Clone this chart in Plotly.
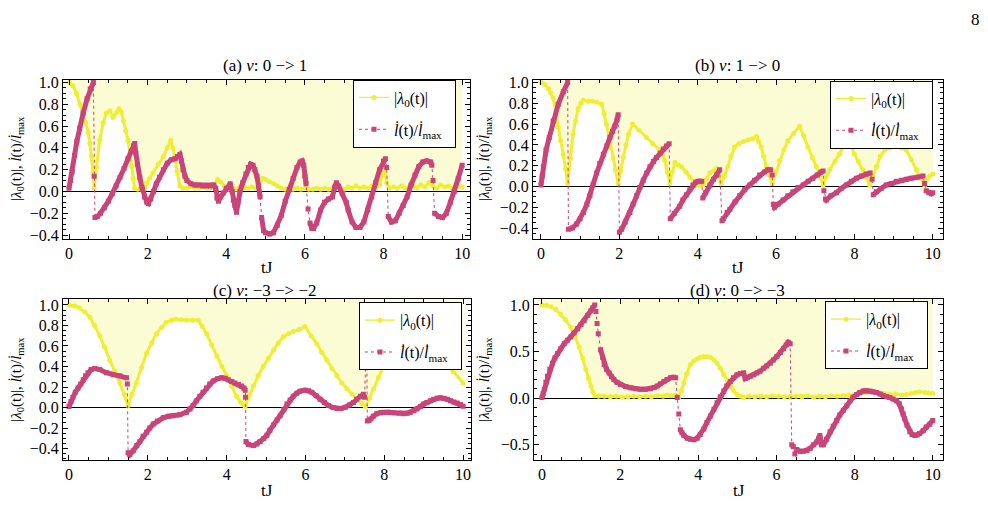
import plotly.graph_objects as go

FONT = "Liberation Serif"
YEL = "#EEEE33"
FILL = "#FBFBD4"
PINK = "#C94478"

# ---------------- panel (a) ----------------
A_YEL_T = [0, 0.1, 0.19, 0.28, 0.36, 0.42, 0.49, 0.53, 0.57, 0.61, 0.64, 0.7, 0.78, 0.87, 0.95, 1.04, 1.12, 1.2, 1.27, 1.33,
           1.38, 1.44, 1.5, 1.55, 1.59, 1.63, 1.67, 1.75, 1.85, 1.93, 1.97, 2.05, 2.14, 2.27, 2.4, 2.5, 2.59, 2.64, 2.69, 2.75,
           2.82, 2.9, 3.0, 3.1, 3.2, 3.3, 3.4, 3.5, 3.6, 3.7, 3.78, 3.85, 3.95, 4.05, 4.15, 4.25, 4.35, 4.45, 4.55, 4.65,
           4.75, 4.85, 4.93, 5.0, 5.1, 5.2, 5.3, 5.4, 5.5, 5.6, 5.7, 5.8, 5.9, 6.0, 6.1, 6.2, 6.3, 6.4, 6.5, 6.6,
           6.7, 6.8, 6.9, 7.0, 7.1, 7.2, 7.3, 7.4, 7.5, 7.6, 7.7, 7.8, 7.9, 7.98, 8.03, 8.08, 8.15, 8.25, 8.35, 8.45,
           8.55, 8.65, 8.75, 8.85, 8.95, 9.05, 9.15, 9.25, 9.35, 9.45, 9.55, 9.65, 9.75, 9.85, 9.95, 10.0]
A_YEL_V = [1.0, 0.97, 0.9, 0.8, 0.71, 0.63, 0.54, 0.44, 0.32, 0.17, 0.03, 0.22, 0.47, 0.63, 0.72, 0.74, 0.68, 0.72, 0.76, 0.73,
           0.65, 0.56, 0.47, 0.35, 0.23, 0.12, 0.03, 0.02, 0.02, 0.03, 0.075, 0.12, 0.17, 0.25, 0.32, 0.4, 0.47, 0.4, 0.32, 0.18,
           0.05, 0.03, 0.03, 0.04, 0.03, 0.03, 0.04, 0.03, 0.03, 0.05, 0.11, 0.09, 0.05, 0.02, 0.03, 0.02, 0.04, 0.03, 0.03, 0.04,
           0.03, 0.05, 0.12, 0.11, 0.09, 0.07, 0.05, 0.03, 0.02, 0.02, 0.02, 0.03, 0.02, 0.03, 0.02, 0.02, 0.03, 0.02, 0.03, 0.02,
           0.03, 0.05, 0.03, 0.02, 0.04, 0.03, 0.05, 0.03, 0.04, 0.03, 0.05, 0.03, 0.06, 0.15, 0.2, 0.08, 0.03, 0.04, 0.03, 0.05,
           0.03, 0.04, 0.05, 0.03, 0.06, 0.04, 0.08, 0.05, 0.03, 0.06, 0.04, 0.05, 0.03, 0.05, 0.04, 0.04]
A_PINK_T = [
    [0, 0.04, 0.08, 0.14, 0.2, 0.27, 0.36, 0.46, 0.54, 0.62],
    [0.64],
    [0.66, 0.72, 0.8, 0.9, 1.0, 1.1, 1.2, 1.3, 1.4, 1.5, 1.58, 1.64, 1.67, 1.7, 1.74, 1.8, 1.86, 1.92, 1.98, 2.02,
     2.08, 2.15, 2.22, 2.3, 2.4, 2.5, 2.6, 2.7, 2.76, 2.82, 2.86, 2.9, 2.95, 3.0, 3.1, 3.2, 3.3, 3.4, 3.5, 3.6, 3.68, 3.73,
     3.76, 3.8, 3.86, 3.92, 4.0, 4.1, 4.15, 4.18, 4.22, 4.26, 4.3, 4.35, 4.42, 4.5, 4.56, 4.62, 4.68, 4.73, 4.78, 4.82, 4.86],
    [4.9, 4.95, 5.0, 5.1, 5.2, 5.3, 5.4, 5.5, 5.6, 5.7, 5.8, 5.88, 5.93, 5.97, 6.0, 6.03],
    [6.08],
    [6.13, 6.18, 6.22, 6.3, 6.4, 6.5, 6.6, 6.7, 6.76, 6.8, 6.86, 6.95, 7.05, 7.1, 7.2, 7.3, 7.4, 7.5, 7.6, 7.7,
     7.8, 7.9, 8.0, 8.05],
    [8.08],
    [8.12, 8.2, 8.3, 8.4, 8.5, 8.6, 8.7, 8.8, 8.9, 9.0, 9.1, 9.2, 9.23],
    [9.26],
    [9.3, 9.4, 9.5, 9.6, 9.7, 9.8, 9.9, 10.0],
]
A_PINK_V = [
    [0.03, 0.1, 0.18, 0.33, 0.46, 0.58, 0.72, 0.85, 0.94, 1.0],
    [0.14],
    [-0.24, -0.23, -0.2, -0.15, -0.09, -0.02, 0.05, 0.13, 0.21, 0.3, 0.37, 0.42, 0.44, 0.35, 0.25, 0.13, 0.03, -0.05, -0.1, -0.11,
     -0.07, 0.0, 0.07, 0.13, 0.2, 0.26, 0.29, 0.3, 0.32, 0.34, 0.28, 0.2, 0.14, 0.1, 0.07, 0.06, 0.06, 0.05, 0.05, 0.05, 0.06, 0.03,
     -0.06, -0.09, -0.05, -0.015, 0.03, 0.07, 0.0, -0.08, -0.13, -0.19, -0.1, 0.0, 0.08, 0.16, 0.22, 0.25, 0.24, 0.2, 0.14, 0.05, -0.05],
    [-0.24, -0.36, -0.38, -0.39, -0.38, -0.31, -0.22, -0.09, 0.02, 0.12, 0.22, 0.27, 0.28, 0.24, 0.14, 0.07],
    [-0.16],
    [-0.29, -0.34, -0.34, -0.29, -0.17, -0.1, -0.07, -0.05, 0.04, 0.08, 0.05, -0.02, -0.1, -0.17, -0.28, -0.33, -0.33, -0.28, -0.17, -0.05,
     0.08, 0.2, 0.28, 0.3],
    [0.22],
    [-0.23, -0.28, -0.27, -0.2, -0.13, -0.05, 0.06, 0.15, 0.23, 0.27, 0.28, 0.27, 0.24],
    [0.1],
    [-0.2, -0.23, -0.24, -0.2, -0.1, 0.0, 0.12, 0.24],
]

# ---------------- panel (b) ----------------
B_YEL_T = [0, 0.1, 0.19, 0.25, 0.31, 0.38, 0.44, 0.5, 0.57, 0.63, 0.68, 0.75, 0.82, 0.88, 0.95, 1.02, 1.08, 1.21, 1.32, 1.42,
           1.55, 1.61, 1.67, 1.76, 1.84, 1.9, 1.97, 2.03, 2.1, 2.17, 2.23, 2.34, 2.5, 2.69, 2.85, 3.03, 3.1, 3.16, 3.22, 3.29,
           3.35, 3.42, 3.5, 3.59, 3.7, 3.8, 3.9, 3.97, 4.06, 4.14, 4.22, 4.31, 4.4, 4.48, 4.54, 4.6, 4.68, 4.77, 4.85, 4.94,
           5.05, 5.16, 5.3, 5.4, 5.5, 5.56, 5.62, 5.68, 5.75, 5.82, 5.9, 6.0, 6.09, 6.2, 6.3, 6.45, 6.6, 6.7, 6.81, 6.92,
           7.03, 7.12, 7.2, 7.28, 7.37, 7.5, 7.62, 7.72, 7.83, 7.92, 8.0, 8.1, 8.22, 8.3, 8.39, 8.47, 8.56, 8.66, 8.77, 8.9,
           9.08, 9.2, 9.32, 9.45, 9.58, 9.68, 9.79, 9.86, 9.92, 10.0]
B_YEL_V = [1.0, 0.98, 0.94, 0.9, 0.85, 0.72, 0.57, 0.44, 0.31, 0.17, 0.03, 0.27, 0.5, 0.63, 0.75, 0.8, 0.83, 0.82, 0.82, 0.81,
           0.79, 0.7, 0.6, 0.44, 0.28, 0.16, 0.03, 0.15, 0.28, 0.4, 0.5, 0.6, 0.54, 0.47, 0.41, 0.35, 0.3, 0.25, 0.14, 0.03,
           0.14, 0.23, 0.21, 0.19, 0.14, 0.09, 0.04, 0.015, 0.01, 0.015, 0.07, 0.13, 0.15, 0.17, 0.1, 0.03, 0.1, 0.19, 0.29, 0.38,
           0.41, 0.43, 0.45, 0.46, 0.48, 0.43, 0.38, 0.29, 0.19, 0.11, 0.03, 0.14, 0.25, 0.35, 0.44, 0.51, 0.58, 0.49, 0.38, 0.28,
           0.19, 0.1, 0.015, 0.09, 0.16, 0.24, 0.31, 0.38, 0.46, 0.39, 0.31, 0.24, 0.16, 0.09, 0.015, 0.1, 0.19, 0.29, 0.35, 0.37,
           0.39, 0.37, 0.35, 0.26, 0.16, 0.08, 0.015, 0.07, 0.1, 0.12]
B_PINK_T = [
    [0, 0.03, 0.06, 0.13, 0.21, 0.31, 0.44, 0.57, 0.68],
    [0.7, 0.8, 0.91, 1.0, 1.08, 1.17, 1.25, 1.33, 1.42, 1.5, 1.59, 1.68, 1.76, 1.83, 1.89, 1.94, 1.97],
    [2.0, 2.06, 2.15, 2.27, 2.35, 2.44, 2.52, 2.61, 2.7, 2.78, 2.87, 2.95, 3.04, 3.12, 3.2, 3.27],
    [3.3, 3.4, 3.54, 3.62, 3.71, 3.8, 3.88, 3.95, 4.01, 4.1],
    [4.13, 4.2, 4.31, 4.4, 4.48, 4.56],
    [4.62, 4.65, 4.75, 4.82, 4.95, 5.07, 5.2, 5.33, 5.45, 5.58, 5.7, 5.79, 5.86],
    [5.9],
    [5.93, 5.96, 6.05, 6.18, 6.3, 6.43, 6.56, 6.69, 6.82, 6.94, 7.05, 7.15, 7.2],
    [7.22],
    [7.26, 7.28, 7.4, 7.54, 7.66, 7.79, 7.92, 8.05, 8.18, 8.3, 8.4],
    [8.45],
    [8.48, 8.56, 8.68, 8.81, 8.94, 9.07, 9.2, 9.33, 9.45, 9.6, 9.75],
    [9.79],
    [9.83, 9.9, 9.96, 10.0],
]
B_PINK_V = [
    [0.015, 0.1, 0.19, 0.35, 0.47, 0.63, 0.79, 0.91, 1.0],
    [-0.41, -0.4, -0.36, -0.31, -0.25, -0.17, -0.09, 0.02, 0.13, 0.22, 0.31, 0.39, 0.47, 0.53, 0.58, 0.64, 0.69],
    [-0.44, -0.41, -0.34, -0.25, -0.17, -0.09, -0.01, 0.06, 0.13, 0.19, 0.24, 0.28, 0.32, 0.36, 0.39, 0.41],
    [-0.31, -0.26, -0.19, -0.13, -0.08, -0.03, 0.015, 0.04, 0.05, 0.05],
    [-0.11, -0.06, 0.015, 0.07, 0.11, 0.16],
    [-0.33, -0.31, -0.25, -0.22, -0.15, -0.09, -0.03, 0.015, 0.06, 0.11, 0.14, 0.16, 0.16],
    [0.11],
    [-0.17, -0.2, -0.17, -0.13, -0.09, -0.05, -0.01, 0.015, 0.05, 0.08, 0.11, 0.14, 0.15],
    [-0.04],
    [-0.12, -0.13, -0.09, -0.06, -0.02, 0.015, 0.05, 0.08, 0.1, 0.12, 0.13],
    [0.07],
    [-0.08, -0.05, -0.02, 0.015, 0.03, 0.05, 0.06, 0.07, 0.08, 0.09, 0.1],
    [0.03],
    [-0.04, -0.06, -0.07, -0.06],
]

# ---------------- panel (c) ----------------
C_YEL_T = [0, 0.15, 0.27, 0.4, 0.53, 0.65, 0.78, 0.9, 1.03, 1.16, 1.29, 1.4, 1.5, 1.6, 1.71, 1.84, 1.97, 2.1, 2.22, 2.35,
           2.47, 2.6, 2.71, 2.85, 2.98, 3.13, 3.28, 3.38, 3.49, 3.62, 3.75, 3.88, 4.0, 4.13, 4.25, 4.36, 4.47, 4.57, 4.68, 4.8,
           4.93, 5.06, 5.19, 5.31, 5.44, 5.57, 5.69, 5.84, 5.99, 6.14, 6.29, 6.41, 6.54, 6.67, 6.8, 6.92, 7.05, 7.18, 7.31, 7.42,
           7.52, 7.62, 7.73, 7.85, 7.98, 8.1, 8.25, 8.5, 8.75, 9.0, 9.25, 9.5, 9.75, 10.0]
C_YEL_V = [1.0, 0.99, 0.97, 0.93, 0.88, 0.8, 0.7, 0.59, 0.46, 0.35, 0.24, 0.13, 0.02, 0.13, 0.24, 0.39, 0.53, 0.63, 0.72, 0.78,
           0.83, 0.85, 0.86, 0.855, 0.85, 0.85, 0.85, 0.79, 0.72, 0.61, 0.5, 0.4, 0.31, 0.21, 0.11, 0.05, 0.01, 0.11, 0.21, 0.31,
           0.4, 0.48, 0.56, 0.63, 0.69, 0.72, 0.74, 0.76, 0.79, 0.7, 0.62, 0.54, 0.46, 0.38, 0.31, 0.24, 0.18, 0.13, 0.08, 0.04,
           0.01, 0.09, 0.18, 0.29, 0.4, 0.47, 0.58, 0.67, 0.72, 0.72, 0.63, 0.46, 0.35, 0.24]
C_PINK_T = [
    [0, 0.05, 0.1, 0.16, 0.23, 0.3, 0.36, 0.42, 0.48, 0.56, 0.65, 0.78, 0.95, 1.12, 1.29, 1.46],
    [1.48],
    [1.5, 1.54, 1.63, 1.72, 1.8, 1.88, 1.97, 2.05, 2.14, 2.25, 2.39, 2.52, 2.64, 2.81, 2.98, 3.07, 3.15, 3.23, 3.32, 3.4,
     3.49, 3.57, 3.66, 3.77, 3.87, 3.96, 4.04, 4.13, 4.21, 4.3, 4.38, 4.44, 4.47],
    [4.48],
    [4.49, 4.55, 4.68, 4.77, 4.85, 4.94, 5.02, 5.1, 5.19, 5.28, 5.36, 5.45, 5.53, 5.61, 5.69, 5.78, 5.86, 5.99, 6.08, 6.16,
     6.27, 6.37, 6.48, 6.58, 6.7, 6.8, 6.9, 7.01, 7.12, 7.22, 7.3, 7.39, 7.47],
    [7.5],
    [7.55],
    [7.57, 7.61, 7.66, 7.72, 7.81, 7.9, 7.98, 8.1, 8.24, 8.37, 8.49, 8.58, 8.66, 8.75, 8.83, 8.92, 9.0, 9.08, 9.17, 9.25,
     9.34, 9.42, 9.51, 9.6, 9.68, 9.77, 9.85, 9.93, 10.0],
]
C_PINK_V = [
    [0.01, 0.06, 0.1, 0.15, 0.19, 0.23, 0.27, 0.31, 0.34, 0.37, 0.38, 0.37, 0.34, 0.32, 0.31, 0.29],
    [0.23],
    [-0.44, -0.46, -0.42, -0.37, -0.33, -0.28, -0.24, -0.2, -0.16, -0.13, -0.1, -0.085, -0.08, -0.07, -0.045, -0.015, 0.02, 0.065, 0.11, 0.15,
     0.19, 0.23, 0.26, 0.28, 0.29, 0.285, 0.27, 0.255, 0.24, 0.225, 0.21, 0.19, 0.17],
    [0.1],
    [-0.33, -0.36, -0.37, -0.355, -0.33, -0.3, -0.27, -0.22, -0.17, -0.12, -0.08, -0.02, 0.035, 0.075, 0.11, 0.14, 0.16, 0.17, 0.165, 0.15,
     0.115, 0.08, 0.05, 0.02, 0.0, -0.01, -0.008, 0.003, 0.025, 0.05, 0.08, 0.11, 0.13],
    [0.1],
    [0.75],
    [-0.13, -0.125, -0.11, -0.085, -0.06, -0.05, -0.045, -0.045, -0.05, -0.055, -0.06, -0.055, -0.045, -0.03, -0.013, 0.01, 0.035, 0.05, 0.067, 0.08,
     0.09, 0.095, 0.09, 0.08, 0.067, 0.055, 0.045, 0.03, 0.013],
]

# ---------------- panel (d) ----------------
D_YEL_T = [0, 0.12, 0.23, 0.35, 0.48, 0.6, 0.74, 0.85, 0.95, 1.04, 1.12, 1.19, 1.25, 1.3, 1.35, 1.45, 1.6, 1.75, 1.9, 2.05,
           2.2, 2.35, 2.5, 2.65, 2.8, 2.95, 3.1, 3.2, 3.3, 3.4, 3.5, 3.57, 3.63, 3.7, 3.8, 3.88, 3.97, 4.05, 4.14, 4.23,
           4.31, 4.4, 4.48, 4.56, 4.65, 4.74, 4.82, 4.9, 4.99, 5.08, 5.16, 5.3, 5.45, 5.6, 5.75, 5.9, 6.05, 6.2, 6.35, 6.5,
           6.65, 6.8, 6.95, 7.1, 7.25, 7.4, 7.55, 7.7, 7.85, 8.0, 8.15, 8.3, 8.47, 8.6, 8.75, 8.9, 9.05, 9.2, 9.32, 9.45,
           9.56, 9.66, 9.8, 9.9, 10.0]
D_YEL_V = [1.0, 0.995, 0.98, 0.95, 0.9, 0.84, 0.76, 0.66, 0.55, 0.43, 0.31, 0.21, 0.13, 0.07, 0.025, 0.02, 0.02, 0.015, 0.02, 0.01,
           0.015, 0.02, 0.015, 0.02, 0.015, 0.025, 0.02, 0.03, 0.025, 0.03, 0.01, 0.08, 0.16, 0.26, 0.36, 0.4, 0.42, 0.44, 0.445, 0.445,
           0.44, 0.41, 0.375, 0.32, 0.25, 0.19, 0.13, 0.08, 0.04, 0.02, 0.007, 0.02, 0.015, 0.02, 0.015, 0.025, 0.02, 0.015, 0.018, 0.02,
           0.015, 0.025, 0.01, 0.02, 0.015, 0.025, 0.02, 0.025, 0.03, 0.04, 0.05, 0.06, 0.075, 0.06, 0.05, 0.04, 0.045, 0.035, 0.04, 0.05,
           0.06, 0.067, 0.06, 0.055, 0.05]
D_PINK_T = [
    [0, 0.03, 0.06, 0.1, 0.14, 0.2, 0.27, 0.33, 0.4, 0.48, 0.57, 0.65, 0.74, 0.82, 0.91, 1.0, 1.08, 1.17, 1.25, 1.3, 1.35],
    [1.38], [1.41], [1.44],
    [1.5, 1.55, 1.59, 1.65, 1.72, 1.78, 1.84, 1.92, 2.01, 2.14, 2.27, 2.4, 2.52, 2.65, 2.78, 2.87, 2.95, 3.03, 3.12, 3.2,
     3.29, 3.36, 3.42],
    [3.46], [3.5],
    [3.54, 3.58, 3.63, 3.72, 3.8, 3.89, 3.97, 4.05, 4.14, 4.22, 4.31, 4.4, 4.48, 4.56, 4.65, 4.73, 4.82, 4.9, 4.99, 5.08,
     5.16, 5.2, 5.25, 5.33, 5.42, 5.5, 5.58, 5.67, 5.75, 5.84, 5.92, 6.01, 6.1, 6.18, 6.25, 6.3, 6.35],
    [6.39, 6.43],
    [6.47],
    [6.52, 6.6, 6.69, 6.78, 6.86, 6.95, 7.03, 7.08, 7.11, 7.15, 7.2, 7.28, 7.37, 7.45, 7.54, 7.62, 7.71, 7.8, 7.88, 7.96,
     8.05, 8.13, 8.22, 8.3, 8.39, 8.47, 8.56, 8.65, 8.73, 8.82, 8.9, 8.98, 9.07, 9.14, 9.2, 9.24, 9.28, 9.34, 9.41, 9.47,
     9.54, 9.6, 9.66, 9.75, 9.83, 9.92, 10.0],
]
D_PINK_V = [
    [0.007, 0.05, 0.095, 0.17, 0.235, 0.31, 0.375, 0.43, 0.48, 0.53, 0.585, 0.62, 0.656, 0.7, 0.744, 0.79, 0.83, 0.89, 0.937, 0.97, 1.0],
    [0.93], [0.8], [0.69],
    [0.52, 0.44, 0.36, 0.31, 0.27, 0.23, 0.2, 0.17, 0.147, 0.125, 0.112, 0.1, 0.095, 0.095, 0.1, 0.115, 0.13, 0.155, 0.18, 0.2,
     0.22, 0.225, 0.22],
    [0.007], [-0.17],
    [-0.34, -0.37, -0.4, -0.43, -0.44, -0.445, -0.43, -0.39, -0.33, -0.26, -0.19, -0.12, -0.05, 0.015, 0.077, 0.13, 0.18, 0.22, 0.25, 0.265,
     0.27, 0.21, 0.22, 0.235, 0.25, 0.27, 0.29, 0.32, 0.345, 0.375, 0.41, 0.446, 0.49, 0.53, 0.57, 0.6, 0.585],
    [-0.5, -0.52],
    [-0.6],
    [-0.55, -0.57, -0.57, -0.56, -0.54, -0.5, -0.47, -0.43, -0.4, -0.5, -0.5, -0.44, -0.36, -0.3, -0.24, -0.18, -0.13, -0.08, -0.028, 0.01,
     0.04, 0.06, 0.077, 0.08, 0.077, 0.07, 0.06, 0.045, 0.025, 0.015, 0.007, -0.01, -0.028, -0.06, -0.116, -0.17, -0.22, -0.29, -0.36, -0.39,
     -0.4, -0.395, -0.38, -0.35, -0.31, -0.28, -0.24],
]

TITLES = ["(a) <i>ν</i>: 0 −> 1", "(b) <i>ν</i>: 1 −> 0", "(c) <i>ν</i>: −3 −> −2", "(d) <i>ν</i>: 0 −> −3"]
YEL_NAME = "|<i>λ</i><sub>0</sub>(t)|"
PINK_NAME = "<i>l̇</i>(t)/<i>l̇</i><sub>max</sub>\u00a0\u00a0"
YTITLE = "|<i>λ</i><sub>0</sub>(t)|, <i>l̇</i>(t)/<i>l̇</i><sub>max</sub>"

W, H = 988, 531


def px(x):
    return x / W


def py(y):
    return (H - y) / H


panels = [
    dict(yt=A_YEL_T, yv=A_YEL_V, pt=A_PINK_T, pv=A_PINK_V, frame=(63, 470, 76, 238),
         xr=[-0.153, 10.2], yr=[-0.432, 1.027], dt=0.2, mdt=0.05, leg=(456, 76), ylab=17, title=(265, 62), xlab=268),
    dict(yt=B_YEL_T, yv=B_YEL_V, pt=B_PINK_T, pv=B_PINK_V, frame=(533, 943, 76, 238),
         xr=[-0.204, 10.26], yr=[-0.5, 1.028], dt=0.2, mdt=0.05, leg=(933, 77), ylab=485, title=(737, 62), xlab=268),
    dict(yt=C_YEL_T, yv=C_YEL_V, pt=C_PINK_T, pv=C_PINK_V, frame=(63, 471, 300, 464),
         xr=[-0.152, 10.2], yr=[-0.513, 1.054], dt=0.2, mdt=0.05, leg=(462, 303), ylab=17, title=(265, 291), xlab=495),
    dict(yt=D_YEL_T, yv=D_YEL_V, pt=D_PINK_T, pv=D_PINK_V, frame=(534, 943, 300, 464),
         xr=[-0.204, 10.26], yr=[-0.666, 1.06], dt=0.5, mdt=0.1, leg=(928, 302), ylab=485, title=(737, 291), xlab=495),
]

fig = go.Figure()
annotations = []
layout = dict(width=W, height=H, margin=dict(l=0, r=0, t=0, b=0), paper_bgcolor="white",
              plot_bgcolor="white", hovermode=False, font=dict(family=FONT, size=16, color="black"))

for i, p in enumerate(panels):
    n = i + 1
    xa = "x" if n == 1 else f"x{n}"
    ya = "y" if n == 1 else f"y{n}"
    lg = "legend" if n == 1 else f"legend{n}"
    ytop = p["yr"][1]
    yt, yv = p["yt"], p["yv"]
    # fill from the yellow curve up to the top of the frame
    fig.add_trace(go.Scatter(x=yt, y=yv, mode="lines", line=dict(width=0, color=YEL), showlegend=False,
                             xaxis=xa, yaxis=ya, hoverinfo="skip"))
    fig.add_trace(go.Scatter(x=yt, y=[ytop] * len(yt), mode="lines", line=dict(width=0, color=FILL),
                             fill="tonexty", fillcolor=FILL, showlegend=False, xaxis=xa, yaxis=ya, hoverinfo="skip"))
    # yellow band + legend trace
    fig.add_trace(go.Scatter(x=yt, y=yv, mode="lines", line=dict(color=YEL, width=3), showlegend=False,
                             xaxis=xa, yaxis=ya))
    fig.add_trace(go.Scatter(x=yt, y=yv, mode="lines+markers", line=dict(color=YEL, width=1.2),
                             marker=dict(color=YEL, size=5, symbol="circle"), name=YEL_NAME,
                             legend=lg, legendgroup=f"yel{n}", xaxis=xa, yaxis=ya))
    # pink band (continuous pieces) + dotted connecting trace
    bx, by, fx, fy = [], [], [], []
    for st, sv in zip(p["pt"], p["pv"]):
        bx += list(st) + [None]
        by += list(sv) + [None]
        fx += list(st)
        fy += list(sv)
    fig.add_trace(go.Scatter(x=bx, y=by, mode="lines", line=dict(color=PINK, width=5), showlegend=False,
                             connectgaps=False, xaxis=xa, yaxis=ya))
    fig.add_trace(go.Scatter(x=fx, y=fy, mode="lines+markers", line=dict(color=PINK, width=1, dash="dot"),
                             marker=dict(color=PINK, size=5, symbol="square"), name=PINK_NAME,
                             legend=lg, legendgroup=f"pink{n}", xaxis=xa, yaxis=ya))

    l, r, t, b = p["frame"]
    common = dict(showline=True, linecolor="black", linewidth=1, mirror="allticks", ticks="inside",
                  ticklen=5, tickcolor="black", tickwidth=1, showgrid=False,
                  tickfont=dict(family=FONT, size=16, color="black"))
    layout["xaxis" if n == 1 else f"xaxis{n}"] = dict(
        common, domain=[px(l), px(r)], range=p["xr"], tick0=0, dtick=2, zeroline=False, anchor=ya,
        minor=dict(dtick=0.5, tick0=0, ticks="inside", ticklen=3, tickcolor="black", showgrid=False))
    layout["yaxis" if n == 1 else f"yaxis{n}"] = dict(
        common, domain=[py(b), py(t)], range=p["yr"], tick0=0, dtick=p["dt"], tickformat=".1f",
        zeroline=True, zerolinecolor="black", zerolinewidth=1, anchor=xa,
        minor=dict(dtick=p["mdt"], tick0=0, ticks="inside", ticklen=3, tickcolor="black", showgrid=False))
    lx, ly = p["leg"]
    layout[lg] = dict(x=px(lx), y=py(ly), xanchor="right", yanchor="top", bgcolor="white",
                      bordercolor="black", borderwidth=1, font=dict(family=FONT, size=16, color="black"),
                      traceorder="grouped", tracegroupgap=8, itemwidth=30)
    tx, ty = p["title"]
    annotations.append(dict(text=TITLES[i], x=px(tx), y=py(ty), xref="paper", yref="paper", showarrow=False,
                            font=dict(family=FONT, size=17, color="black"), xanchor="center", yanchor="middle"))
    annotations.append(dict(text="tJ", x=px((l + r) / 2), y=py(p["xlab"]), xref="paper", yref="paper",
                            showarrow=False, font=dict(family=FONT, size=17, color="black"),
                            xanchor="center", yanchor="middle"))
    annotations.append(dict(text=YTITLE, x=px(p["ylab"]), y=py((t + b) / 2), xref="paper", yref="paper",
                            showarrow=False, textangle=-90, font=dict(family=FONT, size=15, color="black"),
                            xanchor="center", yanchor="middle"))

annotations.append(dict(text="8", x=px(975), y=py(15), xref="paper", yref="paper", showarrow=False,
                        font=dict(family=FONT, size=17, color="black"), xanchor="center", yanchor="middle"))
layout["annotations"] = annotations
fig.update_layout(**layout)
fig.write_html("out.html")
